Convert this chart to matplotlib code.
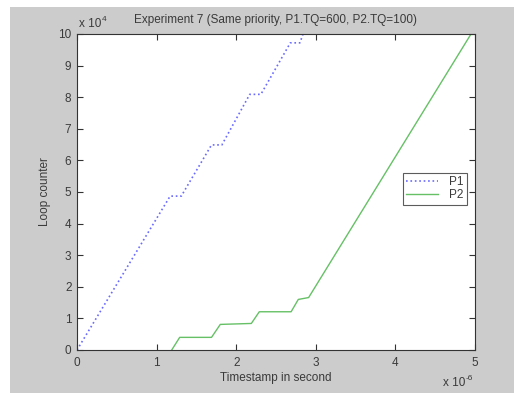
import matplotlib
matplotlib.use("Agg")
import matplotlib.pyplot as plt
from matplotlib.patches import Rectangle

plt.rcParams['font.family'] = ['Liberation Sans', 'DejaVu Sans']

# Data (time in units of 1e-6 s, loop counter in units of 1e4)
p1_time = [0.0, 1.17, 1.31, 1.69, 1.82, 2.17, 2.31, 2.68, 2.80, 2.84]
p1_count = [0.0, 4.87, 4.87, 6.49, 6.49, 8.09, 8.09, 9.72, 9.72, 10.0]

p2_time = [1.19, 1.29, 1.69, 1.80, 2.19, 2.29, 2.69, 2.78, 2.91, 4.95]
p2_count = [0.0, 0.40, 0.40, 0.81, 0.84, 1.21, 1.21, 1.60, 1.66, 10.0]

x_ticks = [0, 1, 2, 3, 4, 5]
y_ticks = [0, 1, 2, 3, 4, 5, 6, 7, 8, 9, 10]

title = "Experiment 7 (Same priority, P1.TQ=600, P2.TQ=100)"
tc = '#3a3a3a'
fs = 8.5

fig = plt.figure(figsize=(5.14, 3.93), dpi=100)
fig.patch.set_facecolor('#cccccc')
# white margins at the top and left edges
fig.patches.append(Rectangle((0, (393-7)/393), 1, 7/393, transform=fig.transFigure,
                             facecolor='white', edgecolor='none', zorder=-10))
fig.patches.append(Rectangle((0, 0), 10/514, 1, transform=fig.transFigure,
                             facecolor='white', edgecolor='none', zorder=-10))

ax = fig.add_axes([77/514, 43/393, 398/514, 316/393])
ax.set_facecolor('white')

ax.plot(p1_time, p1_count, linestyle=':', color='#6a6aff', linewidth=1.2, label='P1')
ax.plot(p2_time, p2_count, linestyle='-', color='#66c066', linewidth=1.0, label='P2')

ax.set_xlim(0, 5)
ax.set_ylim(0, 10)
ax.set_xticks(x_ticks)
ax.set_yticks(y_ticks)
ax.set_xticklabels([str(v) for v in x_ticks])
ax.set_yticklabels([str(v) for v in y_ticks])

for s in ax.spines.values():
    s.set_color('#333333')
    s.set_linewidth(0.8)
ax.tick_params(direction='in', length=4, width=0.8, color='#333333',
               labelsize=fs, labelcolor=tc, top=True, right=True)
ax.tick_params(axis='x', pad=5)
ax.tick_params(axis='y', pad=4)

ax.set_title(title, fontsize=fs, color=tc, pad=8)
ax.set_xlabel('Timestamp in second', fontsize=fs, color=tc, labelpad=2)
ax.set_ylabel('Loop counter', fontsize=fs, color=tc, labelpad=5)

# multiplier labels (matlab style)
t1 = ax.text(0.005, 1.012, 'x 10', transform=ax.transAxes, fontsize=fs,
             color=tc, ha='left', va='bottom')
ax.annotate('4', xy=(1, 1), xycoords=t1, xytext=(0.5, -3.5), textcoords='offset points',
            fontsize=6, color=tc, ha='left', va='bottom')
t2 = ax.text(0.975, -0.085, 'x 10', transform=ax.transAxes, fontsize=fs,
             color=tc, ha='right', va='top')
ax.annotate('-6', xy=(1, 1), xycoords=t2, xytext=(0.5, -3.5), textcoords='offset points',
            fontsize=6, color=tc, ha='left', va='bottom')

leg = ax.legend(loc='center right', bbox_to_anchor=(0.98, 0.51), fontsize=fs,
                frameon=True, fancybox=False, borderpad=0.3, labelspacing=0.1,
                handlelength=2.7, handletextpad=0.9, borderaxespad=0)
leg.get_frame().set_edgecolor('#333333')
leg.get_frame().set_linewidth(0.8)
for t in leg.get_texts():
    t.set_color(tc)

fig.savefig('out.png', dpi=100, facecolor=fig.get_facecolor())
